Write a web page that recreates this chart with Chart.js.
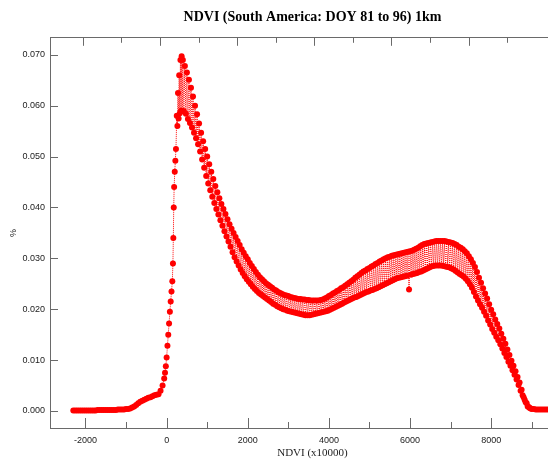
<!DOCTYPE html>
<html><head><meta charset="utf-8">
<script src="https://cdn.jsdelivr.net/npm/chart.js@4.4.0/dist/chart.umd.min.js"></script>
<style>
html,body{margin:0;padding:0;overflow:hidden;background:#fff;width:548px;height:465px}
#wrap{width:578px;height:465px}
</style></head>
<body><div id="wrap"><canvas id="c" width="578" height="465"></canvas></div>
<script>
// ---- data (NDVI x10000 vs %) ----
// left tail: NDVI -2300, -2250, ..., -250
const leftStart = -2300, leftStep = 50;
const leftPct = [
 0.0001,0.0001,0.0001,0.0001,0.0001,0.0001,0.0001,0.0001,0.0001,0.0001,0.0001,0.0001,
 0.0002,0.0002,0.0002,0.0002,0.0002,0.0002,0.0002,0.0002,0.0002,0.0002,
 0.0003,0.0003,0.0003,0.0003,0.0004,0.0004,0.0005,0.0007,0.0009,0.0012,0.0015,0.0018,
 0.0020,0.0022,0.0024,0.0026,0.0027,0.0029,0.0031,0.0032];

const riseNdvi = [-200,-150,-100,-60,-40,-20,0,20,40,60,80,100,120,140,155,165,175,185,200,215,230];
const risePct  = [0.0033,0.0040,0.0050,0.0064,0.0075,0.0088,0.0105,0.0128,0.0150,0.0172,0.0195,0.0215,0.0235,0.0255,0.0290,0.0340,0.0400,0.0440,0.0470,0.0492,0.0515];

const peakNdvi = [250,265,280,295,310,325,340,355,370,385];
const peakPct  = [0.0580,0.0560,0.0625,0.0575,0.0660,0.0585,0.0690,0.0590,0.0697,0.0590];

// band: upper values at NDVI 400,450,...,8950 ; lower values at 425,475,...,8975
const bandStart = 400, bandStep = 50;
const bandUpper = [
 0.0690,0.0678,0.0665,0.0651,0.0635,0.0618,0.0600,0.0583,0.0565,0.0547,0.0530,0.0515,0.0500,0.0485,0.0470,0.0456,0.0442,0.0430,0.0418,0.0407,
 0.0397,0.0387,0.0377,0.0367,0.0358,0.0350,0.0342,0.0334,0.0326,0.0318,0.0311,0.0304,0.0298,0.0291,0.0285,0.0279,0.0273,0.0268,0.0263,0.0259,
 0.0255,0.0251,0.0248,0.0245,0.0242,0.0239,0.0237,0.0234,0.0232,0.0230,0.0228,0.0227,0.0226,0.0224,0.0223,0.0222,0.0221,0.0220,0.0220,0.0219,
 0.0219,0.0218,0.0218,0.0217,0.0217,0.0217,0.0217,0.0217,0.0218,0.0219,0.0221,0.0223,0.0226,0.0228,0.0231,0.0233,0.0236,0.0238,0.0241,0.0243,
 0.0246,0.0249,0.0252,0.0255,0.0258,0.0262,0.0265,0.0268,0.0271,0.0274,0.0276,0.0279,0.0281,0.0284,0.0286,0.0289,0.0291,0.0294,0.0296,0.0298,
 0.0300,0.0302,0.0303,0.0305,0.0306,0.0307,0.0308,0.0309,0.0310,0.0311,0.0312,0.0313,0.0314,0.0315,0.0317,0.0319,0.0321,0.0324,0.0326,0.0328,
 0.0329,0.0330,0.0331,0.0332,0.0333,0.0334,0.0334,0.0334,0.0334,0.0334,0.0333,0.0332,0.0331,0.0330,0.0328,0.0326,0.0323,0.0321,0.0318,0.0314,
 0.0310,0.0304,0.0298,0.0291,0.0283,0.0273,0.0262,0.0252,0.0241,0.0231,0.0221,0.0210,0.0199,0.0190,0.0180,0.0171,0.0162,0.0152,0.0142,0.0132,
 0.0121,0.0110,0.0099,0.0089,0.0078,0.0067,0.0056,0.0042,0.0027,0.0017,
 0.0009,0.0006];
const bandLower = [
 0.0589,0.0584,0.0574,0.0566,0.0557,0.0547,0.0536,0.0524,0.0510,0.0494,0.0478,0.0462,0.0447,0.0434,0.0421,0.0409,0.0397,0.0386,0.0375,0.0364,
 0.0353,0.0343,0.0333,0.0323,0.0312,0.0302,0.0294,0.0286,0.0278,0.0271,0.0265,0.0259,0.0254,0.0249,0.0244,0.0240,0.0236,0.0232,0.0229,0.0226,
 0.0223,0.0220,0.0217,0.0214,0.0211,0.0209,0.0206,0.0204,0.0202,0.0200,0.0199,0.0197,0.0196,0.0195,0.0194,0.0193,0.0192,0.0191,0.0190,0.0189,
 0.0188,0.0188,0.0188,0.0189,0.0190,0.0191,0.0192,0.0193,0.0194,0.0195,0.0196,0.0197,0.0199,0.0201,0.0203,0.0205,0.0207,0.0209,0.0211,0.0213,
 0.0215,0.0217,0.0219,0.0221,0.0223,0.0224,0.0226,0.0228,0.0230,0.0232,0.0234,0.0235,0.0237,0.0238,0.0240,0.0241,0.0243,0.0245,0.0247,0.0249,
 0.0251,0.0253,0.0255,0.0257,0.0259,0.0261,0.0262,0.0263,0.0264,0.0265,0.0266,0.0239,0.0268,0.0269,0.0270,0.0271,0.0273,0.0274,0.0276,0.0278,
 0.0280,0.0282,0.0284,0.0285,0.0286,0.0286,0.0286,0.0286,0.0285,0.0284,0.0283,0.0282,0.0280,0.0278,0.0275,0.0272,0.0269,0.0267,0.0264,0.0260,
 0.0255,0.0249,0.0242,0.0234,0.0225,0.0217,0.0210,0.0203,0.0195,0.0187,0.0178,0.0170,0.0161,0.0154,0.0146,0.0139,0.0131,0.0123,0.0114,0.0106,
 0.0097,0.0089,0.0080,0.0071,0.0062,0.0051,0.0040,0.0031,0.0022,0.0015,
 0.0008,0.0005];

// right tail: NDVI 9000, 9050, ..., 9600
const rightStart = 9000, rightStep = 50;
const rightPct = [0.0004,0.0004,0.0003,0.0003,0.0003,0.0003,0.0003,0.0003,0.0003,0.0003,0.0003,0.0003,0.0003];

// ticks
const yTicks = [0,0.01,0.02,0.03,0.04,0.05,0.06,0.07];
const xTicks = [-2000,0,2000,4000,6000,8000];
const xMinorTicks = [-2000,-1000,0,1000,2000,3000,4000,5000,6000,7000,8000,9000,10000];
const topTicks = [0,1000,2000,3000,4000,5000,6000,7000,8000,9000,10000,11000];

// ---- build points ----
const points = [];
leftPct.forEach((y,i)=>points.push({x: leftStart + leftStep*i, y}));
riseNdvi.forEach((x,i)=>points.push({x, y:risePct[i]}));
peakNdvi.forEach((x,i)=>points.push({x, y:peakPct[i]}));
bandUpper.forEach((u,i)=>{
  const x = bandStart + bandStep*i;
  points.push({x, y:u});
  points.push({x:x + bandStep/2, y:bandLower[i]});
});
rightPct.forEach((y,i)=>points.push({x: rightStart + rightStep*i, y}));

const axisColor = '#6a6a6a';
const labelColor = '#222';
const sans = "'Liberation Sans', Arial, sans-serif";
const serif = "'Liberation Serif', 'Times New Roman', serif";

const tickMarks = {
  id:'tickMarks',
  beforeDatasetsDraw(chart){
    const {ctx, chartArea:a, scales} = chart;
    const x = scales.x, x2 = scales.x2, y = scales.y;
    ctx.save();
    ctx.strokeStyle = axisColor; ctx.lineWidth = 1;
    ctx.beginPath();
    yTicks.forEach(v=>{
      const py = Math.round(y.getPixelForValue(v)) + 0.5;
      ctx.moveTo(a.left, py); ctx.lineTo(a.left + 8, py);
    });
    xMinorTicks.forEach(v=>{
      const px = Math.round(x.getPixelForValue(v)) + 0.5;
      const len = (v % 2000 === 0) ? 10 : 6;
      ctx.moveTo(px, a.bottom); ctx.lineTo(px, a.bottom - len);
    });
    topTicks.forEach((v,i)=>{
      const px = Math.round(x2.getPixelForValue(v)) + 0.5;
      const len = (i % 2 === 0) ? 8 : 5;
      ctx.moveTo(px, a.top); ctx.lineTo(px, a.top + len);
    });
    ctx.stroke();
    ctx.restore();
  }
};

new Chart(document.getElementById('c'), {
  type: 'line',
  data: { datasets: [{
    data: points,
    borderColor: '#ff0000',
    borderWidth: 1,
    borderDash: [1, 1],
    pointRadius: 3,
    pointHoverRadius: 3,
    pointBackgroundColor: '#ff0000',
    pointBorderWidth: 0,
    tension: 0,
    fill: false
  }]},
  options: {
    responsive: false,
    animation: false,
    devicePixelRatio: 1,
    events: [],
    layout: { padding: 0 },
    plugins: {
      legend: { display: false },
      tooltip: { enabled: false },
      title: {
        display: true,
        text: 'NDVI (South America: DOY 81 to 96) 1km',
        fullSize: false,
        color: '#000',
        font: { family: serif, size: 14, weight: 'bold' },
        padding: { top: 9, bottom: 12 }
      }
    },
    scales: {
      x: {
        type: 'linear', position: 'bottom',
        min: -2875, max: 10066,
        afterBuildTicks: s => { s.ticks = xTicks.map(v => ({ value: v })); },
        afterFit: s => { s.height = 37; },
        grid: { drawOnChartArea: false, drawTicks: false },
        border: { color: axisColor, width: 1 },
        ticks: { padding: 7, color: labelColor, font: { family: sans, size: 9 }, maxRotation: 0, autoSkip: false,
                 callback: v => String(v) },
        title: { display: true, text: 'NDVI (x10000)', color: labelColor,
                 font: { family: serif, size: 11 }, padding: { top: 0, bottom: 5 } }
      },
      x2: {
        type: 'linear', position: 'top',
        min: -850, max: 12758,
        afterFit: s => { s.height = 0; },
        grid: { drawOnChartArea: false, drawTicks: false },
        border: { color: axisColor, width: 1 },
        ticks: { display: false }
      },
      y: {
        type: 'linear', position: 'left',
        min: -0.00334, max: 0.07334,
        afterBuildTicks: s => { s.ticks = yTicks.map(v => ({ value: v })); },
        afterFit: s => { s.width = 50; },
        grid: { drawOnChartArea: false, drawTicks: false },
        border: { color: axisColor, width: 1 },
        ticks: { padding: 5, color: labelColor, font: { family: sans, size: 9 },
                 callback: v => Number(v).toFixed(3) },
        title: { display: true, text: '%', color: labelColor,
                 font: { family: sans, size: 9 }, padding: { top: 8, bottom: 0 } }
      }
    }
  },
  plugins: [tickMarks]
});
</script>
</body></html>
